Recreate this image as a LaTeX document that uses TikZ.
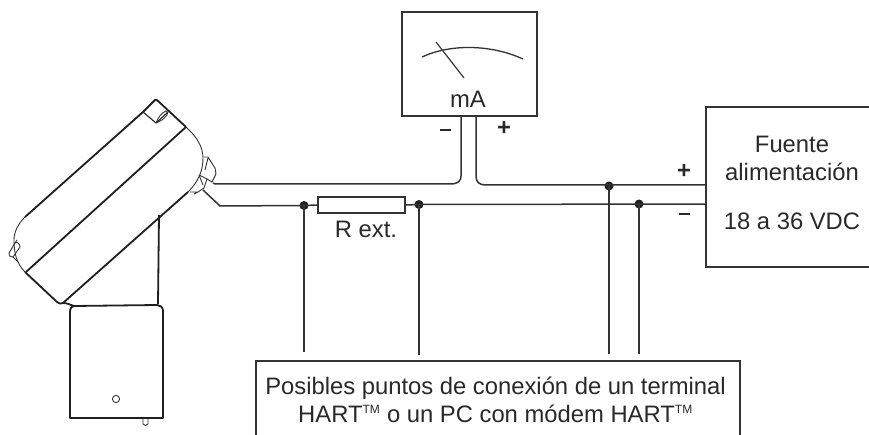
\documentclass[tikz,border=0pt]{standalone}
\usepackage{fontspec}
\setmainfont{Liberation Sans}
\definecolor{ink}{gray}{0.2}
\tikzset{
  every node/.style={text=ink!80!black},
  wire/.style={draw=ink,line width=1.5pt},
  frame/.style={draw=ink,line width=1.7pt},
  thin part/.style={draw=ink,line width=0.9pt},
  body/.style={draw=ink!60!black,line width=1.8pt,line join=round},
  junction/.style={circle,fill=ink!60!black,inner sep=0pt,minimum size=9pt},
  label/.style={font=\fontsize{23.8}{28}\selectfont,inner sep=0pt,align=center},
  sign/.style={font=\bfseries\fontsize{23.8}{28}\selectfont,inner sep=0pt},
}
\begin{document}
\begin{tikzpicture}[x=1pt,y=-1pt]
\useasboundingbox (0,0) rectangle (869,435);
% transmitter housing
\draw[body] (143,112) -- (155,100) .. controls (156,99.5) and (157,100) .. (158,101) -- (186,127);
\draw[thin part] (186,127) .. controls (197,137) and (203,147) .. (203,158);
\draw[thin part] (203,158) .. controls (203,170) and (199,181) .. (188,192);
\draw[body] (188,192) -- (63,303);
\draw[body] (63,303) .. controls (61,304) and (59,304) .. (57,302) -- (25,272);
\draw[thin part] (25,272) .. controls (16,263) and (14,252) .. (14,240) .. controls (14,232) and (18,224) .. (25,217);
\draw[body] (25,217) -- (143,112);
\draw[body] (186,127) -- (26,272);
% tabs
\draw[body,line width=1.1pt] (143,112) -- (156,123) -- (168,112);
\draw[thin part] (156,123) .. controls (158,118) and (161,113) .. (166,111) .. controls (168,112) and (168,113) .. (167,115) .. controls (164,119) and (161,121) .. (156,123);
\draw[thin part] (9,253) -- (15,243) .. controls (17,241) and (20,244) .. (20,247) -- (13,257) .. controls (11,258) and (9,256) .. (9,253);
\draw[thin part] (13,257) -- (18,262) (15,243) -- (17,240);
% cable gland
\draw[thin part] (204,157) -- (208,157) -- (215,168) -- (216,174) -- (212,182) -- (207,179)
  (199,175) -- (207,179) -- (204,188) -- (198,192) -- (190,192) (194,194) -- (198,192)
  (199,175) -- (203,185) (208,158) -- (205,170);
% stem and lower box
\draw[body] (159,215) -- (158,304);
\draw[body] (63,303) .. controls (68,303) and (70,305) .. (74,306) -- (157,305)
  .. controls (160,305) and (163,307) .. (163,311) -- (163,418) -- (70,418) -- (70,312) .. controls (70,308) and (72,306) .. (74,306);
\draw[thin part] (116,399) circle (3.6);
\draw[thin part] (143,419) -- (143,424) .. controls (144,426) and (147,426) .. (148,424) -- (148,419);
% ammeter
\node[frame,minimum width=135pt,minimum height=104pt,inner sep=0pt] (meter) at (469.5,64) {};
\node[label] (ma) at (468,99) {mA};
\draw[thin part,line width=1.3pt] (422,57) .. controls (450,44) and (490,44) .. (523,59);
\coordinate (needleA) at (436,42);
\coordinate (needleB) at (464,78);
\draw[thin part,line width=1.2pt] (needleA) -- (needleB);
\node[sign] (mminus) at (445,130) {\rule{11pt}{2pt}};
\node[sign] (mplus) at (504,129) {+};
% power supply (runs off the right edge)
\coordinate (supTL) at (706,107);
\coordinate (supBL) at (706,267);
\draw[frame] (869,107) -- (supTL) -- (supBL) -- (869,267);
\node[label] (fuente) at (792,144) {Fuente};
\node[label] (alim) at (792,172) {alimentación};
\node[label] (volt) at (792,221) {18 a 36 VDC};
\node[sign] (pplus) at (684,172) {+};
\node[inner sep=0pt] (pminus) at (684,214) {\rule{11pt}{1.2pt}};
% resistor
\node[frame,minimum width=87pt,minimum height=16pt,inner sep=0pt] (res) at (361.5,205) {};
\node[label] (rlabel) at (366,229) {R ext.};
% junctions
\node[junction] (j1) at (304,205.5) {};
\node[junction] (j2) at (419,204.5) {};
\node[junction] (j3) at (609,186) {};
\node[junction] (j4) at (639,204) {};
% hart box
\coordinate (hl) at (256,435);
\coordinate (hr) at (740,435);
\draw[frame] (hl) -- (256,361) -- (740,361) -- (hr);
\node[label] (hart) at (495.5,400) {Posibles puntos de conexión de un terminal\\HART\textsuperscript{\fontsize{12}{12}\selectfont TM} o un PC con módem HART\textsuperscript{\fontsize{12}{12}\selectfont TM}};
% wiring
\coordinate (g1) at (213,183);
\coordinate (g2) at (203,190);
\draw[wire] (g1) -- (215,184) -- (450,184) .. controls (458,184) and (461,181) .. (461,176) -- (461,116);
\draw[wire] (476,116) -- (476,176) .. controls (476,182) and (479,185) .. (486,185) -- (706,185);
\draw[wire] (g2) -- (220,206) -- (j1.center) -- (res.west);
\draw[wire] (res.east) -- (j2.center) -- (706,204);
\draw[wire] (j1.center) -- (304,352);
\draw[wire] (j2.center) -- (419,355);
\draw[wire] (j3.center) -- (609,354);
\draw[wire] (j4.center) -- (639,354);
\end{tikzpicture}
\end{document}
